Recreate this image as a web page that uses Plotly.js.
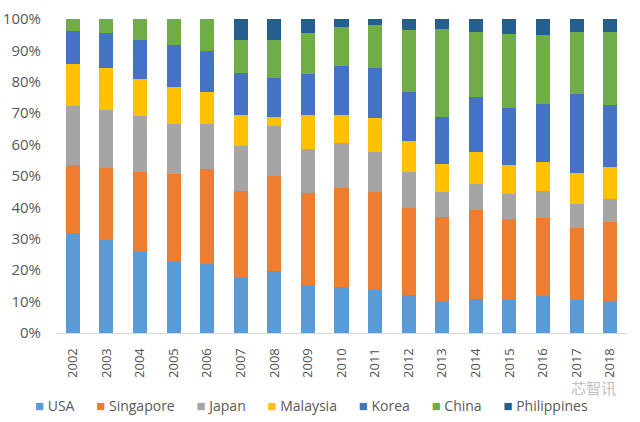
<!DOCTYPE html>
<html>
<head>
<meta charset="utf-8">
<script src="https://cdn.plot.ly/plotly-3.0.1.min.js"></script>
<style>
  html, body { margin: 0; padding: 0; background: #fff; }
  #chart { width: 640px; height: 422px; }
</style>
</head>
<body>
<div id="chart"></div>
<script>
// share of each country per year, in percent
var years = ['2002', '2003', '2004', '2005', '2006', '2007', '2008', '2009', '2010',
             '2011', '2012', '2013', '2014', '2015', '2016', '2017', '2018'];

var usa         = [32.0, 29.5, 25.8, 23.0, 22.0, 17.5, 19.6, 15.4, 14.8, 13.6, 12.2, 10.1, 10.9, 10.6, 11.9, 10.6, 10.1];
var singapore   = [21.5, 23.2, 25.6, 27.6, 30.3, 27.6, 30.5, 29.1, 31.5, 31.3, 27.6, 26.7, 28.3, 25.7, 24.7, 22.8, 25.1];
var japan       = [18.7, 18.3, 17.8, 16.0, 14.3, 14.3, 15.9, 14.0, 14.1, 12.6, 11.6,  8.1,  8.3,  8.0,  8.5,  7.7,  7.4];
var malaysia    = [13.6, 13.3, 11.7, 11.6, 10.3, 10.1,  2.9, 11.0,  9.1, 10.9,  9.6,  9.0, 10.3,  9.3,  9.5, 10.0, 10.4];
var korea       = [10.4, 11.1, 12.4, 13.5, 12.9, 13.2, 12.4, 13.0, 15.5, 15.9, 15.6, 15.0, 17.5, 17.9, 18.4, 24.9, 19.5];
var china       = [ 3.8,  4.6,  6.7,  8.3, 10.2, 10.6, 12.0, 12.9, 12.6, 13.8, 19.9, 27.9, 20.7, 23.7, 21.9, 20.0, 23.5];
var philippines = [ 0.0,  0.0,  0.0,  0.0,  0.0,  6.7,  6.7,  4.6,  2.4,  1.9,  3.5,  3.2,  4.0,  4.8,  5.1,  4.0,  4.0];

var names  = ['USA', 'Singapore', 'Japan', 'Malaysia', 'Korea', 'China', 'Philippines'];
var series = [usa, singapore, japan, malaysia, korea, china, philippines];
var colors = ['#5b9bd5', '#ed7d31', '#a5a5a5', '#ffc000', '#4472c4', '#70ad47', '#255e91'];

var data = [];
for (var i = 0; i < names.length; ++i) {
    data.push({
        x: years,
        y: series[i].map(function (v) { return v / 100; }),
        name: names[i],
        type: 'bar',
        marker: { color: colors[i] },
        hoverinfo: 'skip'
    });
}

// plotly's own legend pads every entry by 40px, too loose for this one-line key,
// so the key is one annotation built from the same names / colours
var nb = '\u00a0';
var keyText = names.map(function (n, i) {
    return '<span style="color:' + colors[i] + ';font-size:15px">■</span>' + nb + n;
}).join(nb + nb + nb + nb + nb + nb);

var font = 'Open Sans, Liberation Sans, sans-serif';

var layout = {
    width: 640,
    height: 422,
    barmode: 'stack',
    bargap: 0.58,
    margin: { l: 56, r: 13, t: 19, b: 89 },
    paper_bgcolor: '#fff',
    plot_bgcolor: '#fff',
    font: { family: font, size: 13, color: '#595959' },
    showlegend: false,
    xaxis: {
        type: 'category',
        automargin: false,
        tickangle: -90,
        showgrid: false,
        showline: true,
        linecolor: '#d9d9d9',
        linewidth: 1,
        ticks: '',
        ticklabelstandoff: 9,
        tickfont: { size: 13, color: '#505050' }
    },
    yaxis: {
        automargin: false,
        range: [0, 1],
        tickvals: [0, 0.1, 0.2, 0.3, 0.4, 0.5, 0.6, 0.7, 0.8, 0.9, 1],
        tickformat: '.0%',
        showgrid: false,
        zeroline: false,
        showline: false,
        ticks: '',
        ticklabelstandoff: 14,
        tickfont: { size: 15, color: '#595959' }
    },
    annotations: [{
        text: keyText,
        xref: 'paper', yref: 'paper',
        x: 0.447, y: -0.229,
        xanchor: 'center', yanchor: 'middle',
        showarrow: false,
        font: { family: font, size: 14, color: '#595959' }
    }, {
        text: '芯智讯',
        xref: 'paper', yref: 'paper',
        x: 0.985, y: -0.172,
        xanchor: 'right', yanchor: 'middle',
        showarrow: false,
        font: { family: 'Noto Sans CJK SC', size: 15, color: '#c0c0c0' }
    }]
};

var config = { staticPlot: true, displayModeBar: false };

Plotly.newPlot('chart', data, layout, config);
</script>
</body>
</html>
